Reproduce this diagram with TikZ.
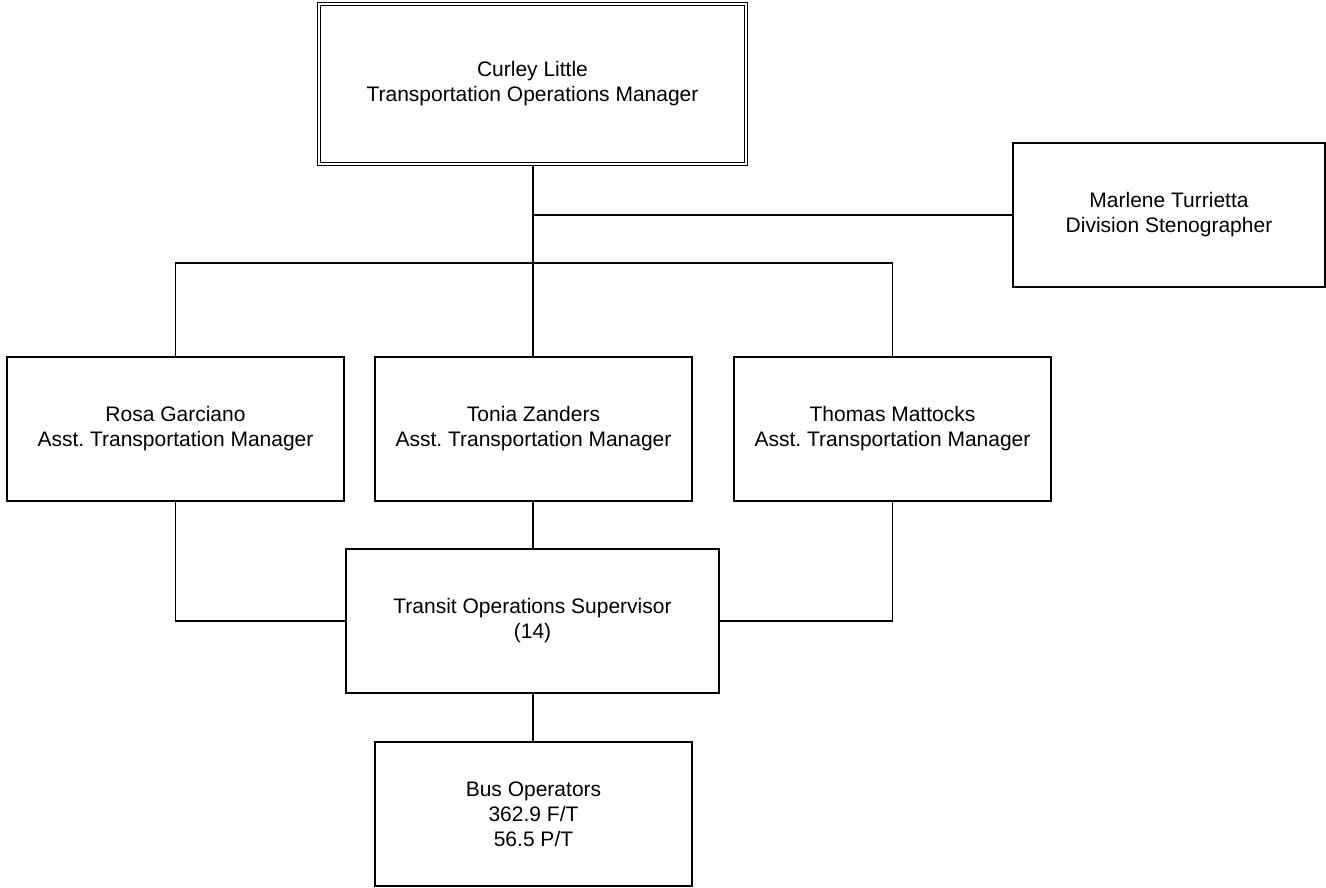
\documentclass[tikz,border=0pt]{standalone}
\usepackage{fontspec}
\setmainfont{Liberation Sans}
\frenchspacing
\begin{document}
\begin{tikzpicture}[x=1pt,y=-1pt,
  box/.style={draw=black, line width=1.4pt, rectangle, align=center, inner sep=0pt,
    minimum height=144pt, font=\fontsize{21}{25}\selectfont},
  conn/.style={draw=black, line width=1.4pt}]
\useasboundingbox (0,0) rectangle (1326,887);
\node[box, double, double distance=2.2pt, line width=1.2pt, minimum width=427pt, minimum height=160pt] (top) at (532.5,84) {Curley Little\\Transportation Operations Manager};
\node[box, minimum width=312pt] (marlene) at (1169,215) {Marlene Turrietta\\Division Stenographer};
\node[box, minimum width=337pt] (rosa) at (175.5,429) {Rosa Garciano\\Asst.\ Transportation Manager};
\node[box, minimum width=317pt] (tonia) at (533.5,429) {Tonia Zanders\\Asst.\ Transportation Manager};
\node[box, minimum width=317pt] (thomas) at (892.5,429) {Thomas Mattocks\\Asst.\ Transportation Manager};
\node[box, minimum width=373pt] (sup) at (532.5,621) {Transit Operations Supervisor\\(14)};
\node[box, minimum width=317pt] (bus) at (533.5,814) {Bus Operators\\362.9 F/T\\56.5 P/T};
\coordinate (j) at (533,263);
\draw[conn] (top.south -| j) -- (j);
\draw[conn] (j |- marlene.west) -- (marlene.west);
\draw[conn] (rosa.north) |- (j) -| (thomas.north);
\draw[conn] (j) -- (j |- tonia.north);
\draw[conn] (rosa.south) |- (sup.west);
\draw[conn] (thomas.south) |- (sup.east);
\draw[conn] (tonia.south -| j) -- (j |- sup.north);
\draw[conn] (j |- sup.south) -- (j |- bus.north);
\end{tikzpicture}
\end{document}
